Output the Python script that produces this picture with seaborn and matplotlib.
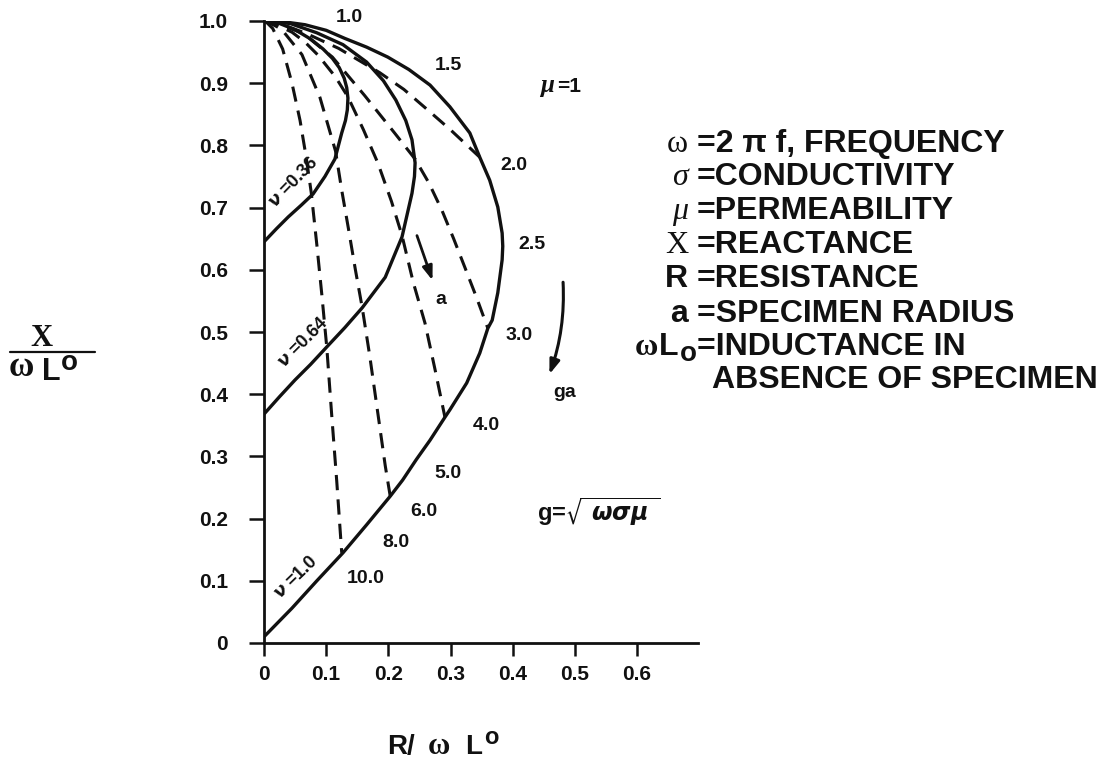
import matplotlib
matplotlib.use("Agg")
import matplotlib.pyplot as plt
from matplotlib.lines import Line2D
import seaborn as sns

# Normalized impedance plane of a cylinder in an encircling coil.
# Solid loci: fill factor nu; coordinates are (R/wLo, X/wLo).
nu_036_r = [0.0, 0.025, 0.050, 0.075, 0.095, 0.110, 0.121, 0.129, 0.133, 0.135,
            0.134, 0.131, 0.125, 0.114, 0.098, 0.079, 0.060, 0.039, 0.020, 0.0]
nu_036_x = [1.0, 0.996, 0.986, 0.971, 0.955, 0.940, 0.925, 0.908, 0.893, 0.876,
            0.857, 0.840, 0.820, 0.778, 0.750, 0.722, 0.704, 0.685, 0.666, 0.645]

nu_064_r = [0.0, 0.042, 0.085, 0.127, 0.165, 0.192, 0.212, 0.228, 0.238, 0.243,
            0.242, 0.238, 0.222, 0.195, 0.158, 0.130, 0.101, 0.075, 0.050, 0.025, 0.0]
nu_064_x = [1.0, 0.996, 0.981, 0.962, 0.934, 0.904, 0.873, 0.840, 0.809, 0.772,
            0.750, 0.723, 0.653, 0.588, 0.539, 0.507, 0.476, 0.448, 0.423, 0.396, 0.368]

nu_100_r = [0.0, 0.030, 0.066, 0.100, 0.130, 0.165, 0.199, 0.233, 0.267, 0.299,
            0.331, 0.347, 0.363, 0.376, 0.383, 0.384, 0.383, 0.376, 0.367, 0.360,
            0.347, 0.326, 0.299, 0.291, 0.267, 0.245, 0.223, 0.203, 0.165, 0.127,
            0.085, 0.045, 0.0]
nu_100_x = [1.0, 0.999, 0.994, 0.985, 0.972, 0.958, 0.942, 0.922, 0.897, 0.862,
            0.820, 0.781, 0.744, 0.701, 0.659, 0.638, 0.616, 0.563, 0.519, 0.506,
            0.466, 0.418, 0.375, 0.363, 0.326, 0.295, 0.262, 0.236, 0.190, 0.145,
            0.100, 0.056, 0.010]

# Dashed loci of constant g (specimen radius a growing), named by ga at nu = 1
g2_r = [0.0, 0.014, 0.033, 0.068, 0.120, 0.186, 0.225, 0.261, 0.300, 0.347]
g2_x = [1.0, 0.998, 0.993, 0.980, 0.956, 0.917, 0.890, 0.859, 0.825, 0.781]

g3_r = [0.0, 0.009, 0.027, 0.063, 0.110, 0.162, 0.210, 0.243, 0.265, 0.286,
        0.305, 0.323, 0.342, 0.360]
g3_x = [1.0, 0.999, 0.994, 0.980, 0.942, 0.880, 0.820, 0.778, 0.740, 0.696,
        0.650, 0.604, 0.555, 0.506]

g4_r = [0.0, 0.015, 0.045, 0.066, 0.087, 0.115, 0.135, 0.160, 0.183, 0.205,
        0.222, 0.240, 0.259, 0.275, 0.291]
g4_x = [1.0, 0.996, 0.982, 0.966, 0.945, 0.910, 0.878, 0.825, 0.772, 0.710,
        0.655, 0.580, 0.514, 0.440, 0.363]

g6_r = [0.0, 0.007, 0.028, 0.061, 0.090, 0.115, 0.125, 0.136, 0.147, 0.158,
        0.170, 0.183, 0.195, 0.203]
g6_x = [1.0, 0.998, 0.987, 0.946, 0.877, 0.791, 0.728, 0.665, 0.600, 0.539,
        0.462, 0.370, 0.285, 0.236]

g10_r = [0.0, 0.005, 0.014, 0.030, 0.045, 0.058, 0.068, 0.076, 0.085, 0.093,
         0.101, 0.109, 0.117, 0.125]
g10_x = [1.0, 0.997, 0.988, 0.955, 0.900, 0.840, 0.780, 0.724, 0.640, 0.560,
         0.475, 0.365, 0.260, 0.145]

ga_labels = ["1.0", "1.5", "2.0", "2.5", "3.0", "4.0", "5.0", "6.0", "8.0", "10.0"]
nu_labels = ["0.36", "0.64", "1.0"]

x_ticks = [0.0, 0.1, 0.2, 0.3, 0.4, 0.5, 0.6]
x_tick_labels = ["0", "0.1", "0.2", "0.3", "0.4", "0.5", "0.6"]
y_ticks = [0.0, 0.1, 0.2, 0.3, 0.4, 0.5, 0.6, 0.7, 0.8, 0.9, 1.0]
y_tick_labels = ["0", "0.1", "0.2", "0.3", "0.4", "0.5", "0.6", "0.7", "0.8", "0.9", "1.0"]

legend_symbols = ["\u03c9", "\u03c3", "\u03bc", "X", "R", "a"]
legend_texts = ["=2 \u03c0 f, FREQUENCY", "=CONDUCTIVITY", "=PERMEABILITY",
                "=REACTANCE", "=RESISTANCE", "=SPECIMEN RADIUS"]
legend_l0_lines = ["=INDUCTANCE IN", "ABSENCE OF SPECIMEN"]

sns.set_theme(style="ticks")
plt.rcParams["font.family"] = ["Liberation Sans", "DejaVu Sans"]
plt.rcParams["font.weight"] = "bold"
plt.rcParams["mathtext.fontset"] = "dejavusans"

W, H = 1111, 762
fig = plt.figure(figsize=(W / 100, H / 100), dpi=100)
fig.patch.set_facecolor("white")
ax = fig.add_axes([264 / W, 119 / H, 434 / W, 622 / H])
ax.set_facecolor("white")

ink = "#111111"
for r, x in [(nu_036_r, nu_036_x), (nu_064_r, nu_064_x), (nu_100_r, nu_100_x)]:
    sns.lineplot(x=r, y=x, sort=False, estimator=None, ax=ax,
                 color=ink, linewidth=2.4)
for r, x in [(g2_r, g2_x), (g3_r, g3_x), (g4_r, g4_x), (g6_r, g6_x), (g10_r, g10_x)]:
    sns.lineplot(x=r, y=x, sort=False, estimator=None, ax=ax,
                 color=ink, linewidth=2.2, linestyle=(0, (5, 3)))

ax.set_xlim(0, 0.698)
ax.set_ylim(0, 1.0)
ax.set_xticks(x_ticks)
ax.set_xticklabels(x_tick_labels)
ax.set_yticks(y_ticks)
ax.set_yticklabels(y_tick_labels)
ax.set_xlabel("")
ax.set_ylabel("")
for side in ["top", "right"]:
    ax.spines[side].set_visible(False)
for side in ["left", "bottom"]:
    ax.spines[side].set_linewidth(2.0)
    ax.spines[side].set_color(ink)
ax.tick_params(axis="y", direction="out", length=11, width=1.8, pad=15,
               labelsize=15, colors=ink)
ax.tick_params(axis="x", direction="out", length=9.5, width=1.8, pad=6,
               labelsize=15, colors=ink)
for lab in ax.get_xticklabels() + ax.get_yticklabels():
    lab.set_fontweight("bold")

# ga values along the nu = 1 locus
ga_pos = [(0.138, 1.005), (0.296, 0.928), (0.402, 0.767), (0.431, 0.640),
          (0.410, 0.495), (0.357, 0.350), (0.296, 0.273), (0.257, 0.211),
          (0.212, 0.161), (0.164, 0.103)]
for lab, (px, py) in zip(ga_labels, ga_pos):
    ax.text(px, py, lab, ha="center", va="center", fontsize=14,
            fontweight="bold", color=ink)

# fill-factor labels along each solid locus
nu_pos = [(0.047, 0.740, 46), (0.063, 0.483, 45), (0.052, 0.105, 44)]
for lab, (px, py, rot) in zip(nu_labels, nu_pos):
    ax.text(px, py, r"$\nu$ =" + lab, ha="center", va="center", fontsize=13,
            fontweight="bold", rotation=rot, rotation_mode="anchor", color=ink)

# direction of increasing radius and of increasing ga
ax.annotate("", xy=(0.271, 0.583), xytext=(0.246, 0.655),
            arrowprops=dict(arrowstyle="-|>,head_length=0.7,head_width=0.25",
                            color=ink, lw=2.0, shrinkA=0, shrinkB=0))
ax.text(0.284, 0.553, "a", ha="center", va="center", fontsize=14,
        fontweight="bold", color=ink)
ax.annotate("", xy=(0.459, 0.432), xytext=(0.481, 0.580),
            arrowprops=dict(arrowstyle="-|>,head_length=0.7,head_width=0.25",
                            connectionstyle="arc3,rad=-0.1",
                            color=ink, lw=2.2, shrinkA=0, shrinkB=0))
ax.text(0.484, 0.402, "ga", ha="center", va="center", fontsize=14,
        fontweight="bold", color=ink)


def fx(px):
    return px / W


def fy(py):
    return 1 - py / H


serif = ["Liberation Serif", "DejaVu Serif"]

# mu = 1 and the definition of g
fig.text(fx(554), fy(92), "\u03bc", ha="right", va="baseline", fontsize=18,
         family=serif, style="italic", color=ink)
fig.text(fx(557), fy(92), "=1", ha="left", va="baseline", fontsize=15,
         fontweight="bold", color=ink)
fig.text(fx(537), fy(521), r"g=$\sqrt{\ \omega\sigma\mu\ }$", ha="left",
         va="baseline", fontsize=17, fontweight="bold", color=ink)

# symbol key
baselines = [152, 185, 219, 253, 287, 322]
sym_fonts = [serif, serif, serif, serif, ["Liberation Sans"], ["Liberation Sans"]]
sym_styles = ["normal", "italic", "italic", "normal", "normal", "normal"]
for sym, txt, base, fam, sty in zip(legend_symbols, legend_texts, baselines,
                                    sym_fonts, sym_styles):
    weight = "bold" if fam[0] == "Liberation Sans" else "normal"
    fig.text(fx(688), fy(base), sym, ha="right", va="baseline", fontsize=23,
             family=fam, style=sty, fontweight=weight, color=ink)
    fig.text(fx(697), fy(base), txt, ha="left", va="baseline", fontsize=23,
             fontweight="bold", color=ink)
fig.text(fx(658), fy(355), "\u03c9", ha="right", va="baseline", fontsize=23,
         family=serif, color=ink)
fig.text(fx(659), fy(355), "L", ha="left", va="baseline", fontsize=23,
         fontweight="bold", color=ink)
fig.text(fx(680), fy(361), "o", ha="left", va="baseline", fontsize=20,
         fontweight="bold", color=ink)
fig.text(fx(697), fy(355), legend_l0_lines[0], ha="left", va="baseline",
         fontsize=23, fontweight="bold", color=ink)
fig.text(fx(712), fy(388), legend_l0_lines[1], ha="left", va="baseline",
         fontsize=23, fontweight="bold", color=ink)

# vertical axis title: X over wLo
fig.text(fx(41), fy(346), "X", ha="center", va="baseline", fontsize=22,
         family=serif, color=ink)
fig.add_artist(Line2D([fx(10), fx(95)], [fy(352), fy(352)], color=ink, lw=1.6))
fig.text(fx(9), fy(376), "\u03c9", ha="left", va="baseline", fontsize=25,
         family=serif, color=ink)
fig.text(fx(42), fy(380), "L", ha="left", va="baseline", fontsize=22,
         fontweight="bold", color=ink)
fig.text(fx(61), fy(370), "o", ha="left", va="baseline", fontsize=20,
         fontweight="bold", color=ink)

# horizontal axis title: R / wLo
fig.text(fx(387), fy(754), "R/", ha="left", va="baseline", fontsize=20,
         fontweight="bold", color=ink)
fig.text(fx(428), fy(754), "\u03c9", ha="left", va="baseline", fontsize=22,
         family=serif, color=ink)
fig.text(fx(465), fy(754), "L", ha="left", va="baseline", fontsize=20,
         fontweight="bold", color=ink)
fig.text(fx(484), fy(744), "o", ha="left", va="baseline", fontsize=17,
         fontweight="bold", color=ink)

fig.savefig("out.png", dpi=100, facecolor="white")
